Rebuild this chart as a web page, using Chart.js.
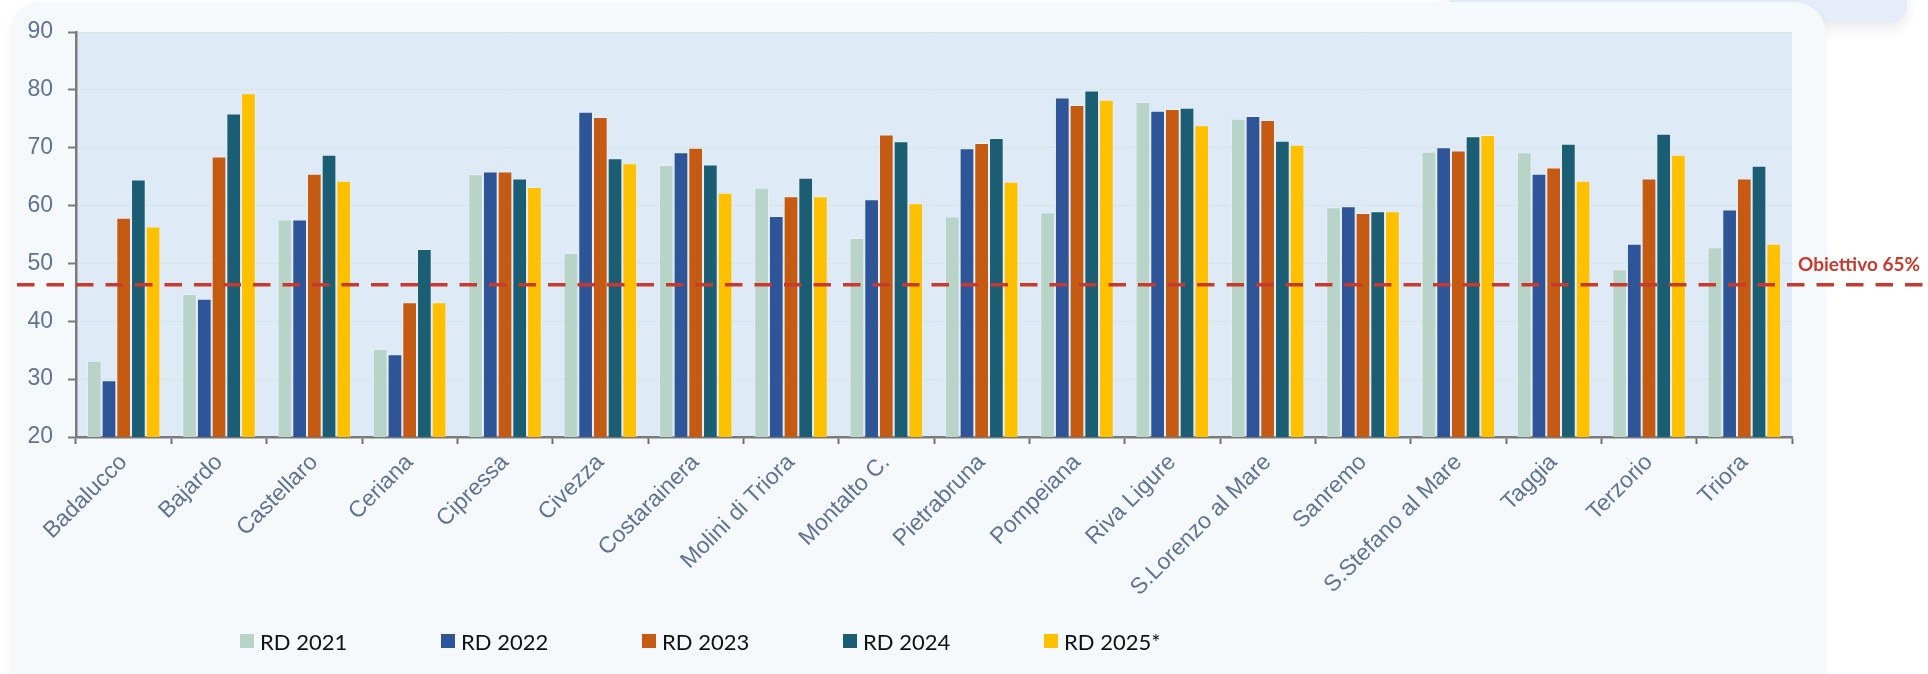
<!DOCTYPE html>
<html>
<head>
<meta charset="utf-8">
<script src="https://cdn.jsdelivr.net/npm/chart.js@4.4.1/dist/chart.umd.min.js"></script>
<style>
  html, body { margin: 0; padding: 0; background: #ffffff; }
  #wrap { position: relative; width: 1928px; height: 674px; overflow: hidden; }
  .backcard { position: absolute; left: 1450px; top: -40px; width: 457px; height: 63px;
    background: #e6ecf8; border-radius: 16px; box-shadow: 0 6px 14px rgba(0,0,0,0.08); }
  .card { position: absolute; left: 10px; top: 2px; width: 1816px; height: 700px;
    background: #f5f9fb; border-radius: 32px; box-shadow: 0 0 8px rgba(0,0,0,0.04); }
  canvas { position: absolute; left: 0; top: 0; }
  #legend { position: absolute; left: 0; top: 627px; height: 28px; }
  .item { position: absolute; top: 0; display: flex; align-items: center; height: 28px;
    font-family: Lato, "Open Sans", sans-serif; font-size: 22px; color: #111; white-space: nowrap; }
  .box { width: 14px; height: 14px; margin-right: 6px; }
</style>
</head>
<body>
<div id="wrap">
  <div class="backcard"></div>
  <div class="card"></div>
  <canvas id="chart" width="1928" height="674"></canvas>
  <div id="legend"></div>
</div>
<script>
// comuni
const comuni = ['Badalucco', 'Bajardo', 'Castellaro', 'Ceriana', 'Cipressa', 'Civezza', 'Costarainera',
  'Molini di Triora', 'Montalto C.', 'Pietrabruna', 'Pompeiana', 'Riva Ligure', 'S.Lorenzo al Mare',
  'Sanremo', 'S.Stefano al Mare', 'Taggia', 'Terzorio', 'Triora'];

// raccolta differenziata % per anno
const rd2021 = [33.2, 44.7, 57.6, 35.2, 65.4, 51.8, 67.0, 63.1, 54.4, 58.1, 58.8, 77.9, 75.0, 59.7, 69.3, 69.2, 49.0, 52.8];
const rd2022 = [29.8, 43.9, 57.6, 34.3, 65.9, 76.2, 69.2, 58.2, 61.1, 69.9, 78.7, 76.4, 75.5, 59.9, 70.1, 65.5, 53.4, 59.3];
const rd2023 = [57.9, 68.5, 65.5, 43.3, 65.9, 75.3, 70.0, 61.6, 72.3, 70.8, 77.4, 76.7, 74.8, 58.7, 69.5, 66.6, 64.7, 64.7];
const rd2024 = [64.5, 75.9, 68.8, 52.5, 64.7, 68.2, 67.1, 64.8, 71.1, 71.7, 79.9, 76.9, 71.2, 59.0, 72.0, 70.7, 72.4, 66.9];
const rd2025 = [56.4, 79.4, 64.3, 43.3, 63.2, 67.3, 62.2, 61.6, 60.4, 64.1, 78.3, 73.9, 70.5, 59.0, 72.2, 64.3, 68.8, 53.4];

const serieLabels = ['RD 2021', 'RD 2022', 'RD 2023', 'RD 2024', 'RD 2025*'];
const serieColors = ['#b8d4c9', '#2e5597', '#c55b12', '#1b5e73', '#ffc000'];

const yTicks = [20, 30, 40, 50, 60, 70, 80, 90];
const obiettivo = 46.3;
const obiettivoLabel = 'Obiettivo 65%';

const allSeries = [rd2021, rd2022, rd2023, rd2024, rd2025];
const datasets = allSeries.map(function(d, i) {
  return {
    label: serieLabels[i],
    data: d,
    backgroundColor: serieColors[i],
    borderColor: 'rgba(255,255,255,0.3)',
    borderWidth: 1,
    categoryPercentage: 0.771,
    barPercentage: 1
  };
});

const plotBg = {
  id: 'plotBg',
  beforeDraw(chart) {
    const a = chart.chartArea, c = chart.ctx;
    c.save();
    c.fillStyle = '#deeaf5';
    c.fillRect(a.left, a.top, a.right - a.left, a.bottom - a.top);
    c.restore();
  }
};

const targetLine = {
  id: 'targetLine',
  afterDatasetsDraw(chart) {
    const c = chart.ctx, a = chart.chartArea;
    const y = chart.scales.y.getPixelForValue(obiettivo);
    c.save();
    c.strokeStyle = '#c83a2e';
    c.lineWidth = 3.5;
    c.setLineDash([17.5, 12]);
    c.beginPath();
    c.moveTo(17, y);
    c.lineTo(chart.width, y);
    c.stroke();
    c.setLineDash([]);
    c.fillStyle = '#c83a2e';
    c.font = 'bold 19px Lato, "Open Sans", sans-serif';
    c.textBaseline = 'middle';
    c.fillText(obiettivoLabel, a.right + 6, y - 20);
    c.restore();
  }
};

new Chart(document.getElementById('chart'), {
  type: 'bar',
  data: { labels: comuni, datasets: datasets },
  plugins: [plotBg, targetLine],
  options: {
    responsive: false,
    animation: false,
    layout: { padding: { left: 0, right: 136, top: 32, bottom: 0 } },
    plugins: { legend: { display: false }, tooltip: { enabled: false } },
    scales: {
      x: {
        afterFit(scale) { scale.height = 237; },
        grid: { display: true, drawOnChartArea: false, tickLength: 7, tickWidth: 2, tickColor: '#6e6e6e' },
        border: { color: '#7a7a7a', width: 2.5 },
        ticks: {
          autoSkip: false, maxRotation: 45, minRotation: 45,
          color: '#617391', padding: 5,
          font: { family: '"Liberation Sans", Arial, sans-serif', size: 23 }
        }
      },
      y: {
        min: 20, max: 90,
        afterFit(scale) { scale.width = 76; },
        afterBuildTicks(scale) { scale.ticks = yTicks.map(v => ({ value: v })); },
        grid: { color: '#d5e6e6', lineWidth: 1, tickLength: 8, tickWidth: 2, tickColor: '#7a7a7a' },
        border: { color: '#7a7a7a', width: 2.5 },
        ticks: {
          color: '#617391', padding: 15,
          font: { family: '"Liberation Sans", Arial, sans-serif', size: 23 }
        }
      }
    }
  }
});

// legenda
const legend = document.getElementById('legend');
serieLabels.forEach(function(lbl, i) {
  const it = document.createElement('div');
  it.className = 'item';
  it.style.left = (240 + i * 201) + 'px';
  it.innerHTML = '<div class="box" style="background:' + serieColors[i] + '"></div>' + lbl;
  legend.appendChild(it);
});
</script>
</body>
</html>
